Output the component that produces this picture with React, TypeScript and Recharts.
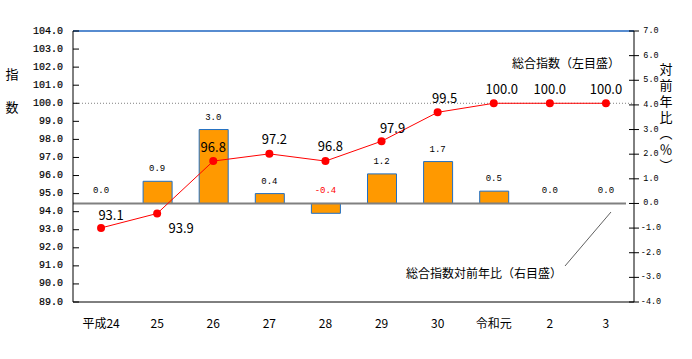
import { ComposedChart, Bar, Line, XAxis, YAxis, ReferenceLine } from 'recharts';

// 年度
const years = ['平成24', '25', '26', '27', '28', '29', '30', '令和元', '2', '3'];
// 総合指数（左目盛）
const sogoIndex = [93.1, 93.9, 96.8, 97.2, 96.8, 97.9, 99.5, 100.0, 100.0, 100.0];
// 総合指数対前年比（右目盛）
const yoyChange = [0.0, 0.9, 3.0, 0.4, -0.4, 1.2, 1.7, 0.5, 0.0, 0.0];

const leftTicks = [89, 90, 91, 92, 93, 94, 95, 96, 97, 98, 99, 100, 101, 102, 103, 104];
const rightTicks = [-4, -3, -2, -1, 0, 1, 2, 3, 4, 5, 6, 7];

// label nudges for the index values (dx, dy from the point)
const lineLabelNudge = [
  [10, -13], [24, 14], [0, -15], [5, -15], [5, -16],
  [11, -14], [7, -15], [8, -15], [0, -15], [0, -15],
];

// labelBase = where the bar's value label sits (top of the bar, or the zero line for negatives)
const data = years.map((year, i) => ({
  year,
  sogo: sogoIndex[i],
  yoy: yoyChange[i],
  labelBase: Math.max(yoyChange[i], 0),
}));

const mono = '"Liberation Mono", "DejaVu Sans Mono", monospace';
const jp = '"Noto Sans CJK JP", sans-serif';

const LeftTick = (props: any) => {
  const { x, y, payload } = props;
  return (
    <g>
      <line x1={x} y1={y} x2={x + 6} y2={y} stroke="#000" />
      <text x={x - 10} y={y} textAnchor="end" dominantBaseline="central" fontSize={10} fontFamily={mono} fill="#000" stroke="#000" strokeWidth={0.2}>
        {Number(payload.value).toFixed(1)}
      </text>
    </g>
  );
};

const RightTick = (props: any) => {
  const { x, y, payload } = props;
  return (
    <g>
      <line x1={x - 5} y1={y} x2={x + 5} y2={y} stroke="#000" />
      <text x={x + 17} y={y} textAnchor="middle" dominantBaseline="central" fontSize={8.5} fontFamily={mono} fill="#000">
        {Number(payload.value).toFixed(1)}
      </text>
    </g>
  );
};

const BottomTick = (props: any) => {
  const { x, y, payload } = props;
  return (
    <text x={x} y={y + 12} textAnchor="middle" dominantBaseline="central" fontSize={12} fontFamily={jp} fill="#000">
      {payload.value}
    </text>
  );
};

const SogoDot = (props: any) => {
  const { cx, cy, index, payload } = props;
  const [dx, dy] = lineLabelNudge[index] || [0, -15];
  return (
    <g key={`dot-${index}`}>
      <circle cx={cx} cy={cy} r={4} fill="#ff0000" />
      <text x={cx + dx} y={cy + dy} textAnchor="middle" dominantBaseline="central" fontSize={13} fontFamily={jp} fill="#000">
        {payload.sogo.toFixed(1)}
      </text>
    </g>
  );
};

const YoyLabel = (props: any) => {
  const { cx, cy, index, payload } = props;
  const v = Number(payload.yoy);
  return (
    <text key={`yoy-${index}`} x={cx} y={cy - 12} textAnchor="middle" dominantBaseline="central" fontSize={9} fontFamily={mono} fill={v < 0 ? '#ff0000' : '#000'}>
      {v.toFixed(1)}
    </text>
  );
};

const ZeroLine = (props: any) => (
  <line x1={props.x1 - 8} y1={props.y1} x2={props.x2} y2={props.y2} stroke="#808080" strokeWidth={2} />
);

export default function App() {
  return (
    <div style={{ position: 'absolute', left: 0, top: 0, width: 692, height: 359, background: '#fff' }}>
      <ComposedChart width={692} height={359} data={data} margin={{ top: 31, right: 0, bottom: 27, left: 0 }}>
        <XAxis dataKey="year" height={30} tickLine={false} tickSize={6} axisLine={{ stroke: '#000' }} tick={<BottomTick />} interval={0} />
        <YAxis
          yAxisId="left"
          orientation="left"
          width={73}
          domain={[89, 104]}
          ticks={leftTicks}
          interval={0}
          tickSize={0}
          tickMargin={0}
          tickLine={false}
          axisLine={{ stroke: '#000' }}
          tick={<LeftTick />}
          allowDataOverflow
        />
        <YAxis
          yAxisId="right"
          orientation="right"
          width={58}
          domain={[-4, 7]}
          ticks={rightTicks}
          interval={0}
          tickSize={0}
          tickMargin={0}
          tickLine={false}
          axisLine={{ stroke: '#000' }}
          tick={<RightTick />}
          allowDataOverflow
        />
        <ReferenceLine yAxisId="left" y={104} stroke="#1f66c1" strokeWidth={1.5} />
        <ReferenceLine yAxisId="left" y={100} stroke="#808080" strokeDasharray="1 2" />
        <Bar yAxisId="right" dataKey="yoy" barSize={29} fill="#ff9900" stroke="#1f6fc5" strokeWidth={1} isAnimationActive={false} />
        <ReferenceLine yAxisId="right" y={0} shape={<ZeroLine />} ifOverflow="visible" />
        <Line yAxisId="right" dataKey="labelBase" stroke="none" dot={<YoyLabel />} activeDot={false} legendType="none" isAnimationActive={false} />
        <Line yAxisId="left" dataKey="sogo" stroke="#ff0000" strokeWidth={1} dot={<SogoDot />} activeDot={false} isAnimationActive={false} />
      </ComposedChart>
      <svg width={692} height={359} style={{ position: 'absolute', left: 0, top: 0, pointerEvents: 'none' }}>
        <g fontFamily={jp} fontSize={13} fill="#000" textAnchor="middle" dominantBaseline="central">
          <text x={12} y={73}>指</text>
          <text x={12} y={106}>数</text>
        </g>
        <text x={666} y={63} fontFamily={jp} fontSize={13} fill="#000" letterSpacing={3} style={{ writingMode: 'vertical-rl' }}>
          対前年比（％）
        </text>
        <text x={512} y={62} fontFamily={jp} fontSize={12} dominantBaseline="central" fill="#000">総合指数（左目盛）</text>
        <text x={406} y={272} fontFamily={jp} fontSize={12} dominantBaseline="central" fill="#000">総合指数対前年比（右目盛）</text>
        <line x1={611} y1={212} x2={565} y2={266} stroke="#606060" strokeWidth={1} />
      </svg>
    </div>
  );
}
